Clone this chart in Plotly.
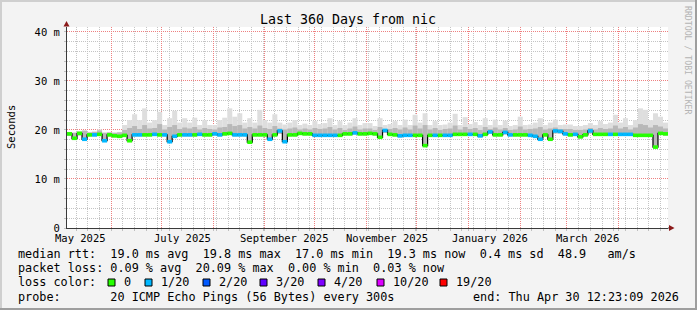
import plotly.graph_objects as go
import pandas as pd

# ---------------- data ----------------
start = pd.Timestamp('2025-05-05 12:23:09')
end = pd.Timestamp('2026-04-30 12:23:09')
step_days = 3

median_ms = [19.2, 18.3, 19.3, 18.1, 19.0, 19.0, 19.1, 17.8, 19.0, 18.8,
             18.7, 18.9, 17.8, 19.0, 19.0, 19.0, 19.0, 19.1, 19.0, 19.0,
             17.6, 18.7, 19.0, 19.0, 19.0, 19.0, 19.1, 19.0, 19.0, 19.2,
             19.0, 19.2, 19.3, 19.0, 19.0, 19.0, 17.5, 19.0, 19.0, 19.0,
             18.1, 19.0, 19.8, 17.6, 19.0, 19.0, 19.3, 19.2, 19.2, 18.9,
             18.9, 18.9, 18.9, 18.9, 18.9, 19.2, 19.2, 19.4, 19.2, 19.2,
             19.3, 19.2, 18.5, 19.9, 19.1, 19.0, 18.8, 18.9, 18.9, 18.9,
             18.9, 16.8, 18.9, 18.9, 18.9, 18.9, 18.9, 19.1, 19.1, 19.1,
             19.1, 19.1, 18.8, 19.1, 19.6, 19.0, 19.0, 19.5, 19.0, 19.0,
             19.0, 19.0, 18.9, 18.7, 18.1, 19.0, 18.1, 19.8, 19.7, 19.2,
             19.0, 19.1, 18.6, 19.0, 19.8, 19.1, 19.1, 19.1, 19.1, 19.1,
             19.1, 19.1, 19.1, 18.9, 18.9, 18.9, 18.9, 16.5, 19.3, 19.2]

loss_step = [0, 0, 0, 1, 0, 1, 0, 1, 0, 0,
             0, 0, 0, 1, 1, 0, 0, 1, 0, 1,
             1, 1, 0, 1, 1, 0, 1, 0, 0, 1,
             1, 0, 0, 1, 1, 1, 0, 0, 0, 0,
             1, 0, 1, 1, 0, 0, 0, 0, 0, 1,
             1, 1, 1, 1, 0, 0, 0, 1, 0, 0,
             0, 0, 0, 1, 0, 0, 1, 1, 1, 0,
             0, 0, 0, 1, 0, 1, 1, 0, 0, 0,
             1, 0, 1, 0, 1, 0, 0, 1, 1, 0,
             0, 0, 1, 1, 1, 0, 0, 1, 1, 1,
             0, 1, 0, 0, 1, 0, 0, 0, 1, 0,
             1, 1, 1, 0, 0, 0, 0, 0, 0, 0]

smoke_max = [19.6, 19.5, 19.8, 20.0, 19.6, 19.7, 20.1, 19.5, 19.6, 19.5,
             19.6, 21.0, 22.0, 23.2, 22.0, 24.4, 21.5, 22.0, 23.7, 21.0,
             22.4, 23.9, 21.5, 22.4, 21.5, 22.5, 21.0, 22.0, 21.0, 21.0,
             22.0, 22.5, 24.4, 22.7, 23.4, 21.5, 22.4, 21.5, 24.1, 22.0,
             21.5, 23.2, 21.5, 21.1, 21.5, 22.0, 21.0, 21.3, 21.0, 21.8,
             21.2, 21.4, 22.4, 21.0, 21.8, 21.0, 21.5, 22.4, 21.0, 21.4,
             21.4, 20.8, 22.4, 21.0, 21.2, 21.8, 21.0, 22.1, 21.0, 23.1,
             21.5, 23.4, 21.0, 21.8, 21.0, 21.1, 21.5, 23.3, 21.0, 22.6,
             21.2, 21.6, 21.0, 22.4, 21.0, 22.1, 21.0, 21.9, 20.8, 21.0,
             22.7, 21.0, 21.1, 21.5, 22.4, 21.0, 21.5, 22.1, 21.0, 21.1,
             21.1, 20.8, 20.8, 21.0, 21.4, 21.0, 21.8, 21.2, 21.5, 23.1,
             21.5, 22.4, 21.0, 22.0, 24.4, 24.1, 22.0, 23.4, 22.7, 21.5]

smoke_mid = [19.5, 19.4, 19.6, 19.8, 19.5, 19.6, 19.9, 19.4, 19.5, 19.4,
             19.5, 20.0, 20.4, 20.8, 20.2, 21.0, 20.3, 20.4, 21.2, 20.1,
             20.6, 21.0, 20.2, 20.5, 20.3, 20.6, 20.1, 20.4, 20.2, 20.1,
             20.5, 20.6, 21.2, 20.8, 21.0, 20.3, 20.6, 20.3, 20.9, 20.4,
             20.2, 20.8, 20.3, 20.1, 20.3, 20.5, 20.1, 20.3, 20.1, 20.4,
             20.2, 20.3, 20.6, 20.1, 20.4, 20.0, 20.3, 20.7, 20.1, 20.3,
             20.3, 20.0, 20.6, 20.2, 20.2, 20.4, 20.1, 20.5, 20.1, 20.9,
             20.3, 21.0, 20.1, 20.4, 20.0, 20.2, 20.3, 20.9, 20.1, 20.6,
             20.2, 20.4, 20.0, 20.6, 20.2, 20.5, 20.1, 20.4, 20.0, 20.1,
             20.7, 20.1, 20.2, 20.3, 20.6, 20.1, 20.3, 20.5, 20.2, 20.2,
             20.2, 20.0, 20.0, 20.1, 20.4, 20.1, 20.4, 20.2, 20.3, 20.9,
             20.3, 20.6, 20.1, 20.5, 21.2, 21.0, 20.5, 21.0, 20.7, 20.3]

smoke_min = [18.8, 18.3, 18.9, 18.1, 18.7, 18.7, 18.8, 17.8, 18.7, 18.5,
             18.4, 18.6, 17.8, 18.7, 18.7, 18.7, 18.7, 18.8, 18.7, 18.7,
             17.6, 18.4, 18.7, 18.7, 18.7, 18.7, 18.8, 18.7, 18.7, 18.9,
             18.7, 18.9, 19.0, 18.7, 18.7, 18.7, 17.5, 18.7, 18.7, 18.7,
             18.1, 18.7, 19.2, 17.6, 18.7, 18.7, 19.0, 18.9, 18.9, 18.6,
             18.6, 18.6, 18.6, 18.6, 18.6, 18.9, 18.9, 19.1, 18.9, 18.9,
             19.0, 18.9, 18.5, 19.4, 18.8, 18.7, 18.5, 18.6, 18.6, 18.6,
             18.6, 16.8, 18.6, 18.6, 18.6, 18.6, 18.6, 18.8, 18.8, 18.8,
             18.8, 18.8, 18.5, 18.8, 19.2, 18.7, 18.7, 19.1, 18.7, 18.7,
             18.7, 18.7, 18.6, 18.4, 18.1, 18.7, 18.1, 19.3, 19.3, 18.9,
             18.7, 18.8, 18.3, 18.7, 19.3, 18.8, 18.8, 18.8, 18.8, 18.8,
             18.8, 18.8, 18.8, 18.6, 18.6, 18.6, 18.6, 16.5, 19.0, 18.9]

loss_labels = ['0', '1/20', '2/20', '3/20', '4/20', '10/20', '19/20']
loss_colors = ['#26ff00', '#00b8ff', '#0059ff', '#5e00ff', '#7e00ff', '#dd00ff', '#ff0000']

x_label_dates = ['2025-05-13 18:00', '2025-07-13 18:00', '2025-09-12 18:00',
                 '2025-11-13 00:00', '2026-01-13 18:00', '2026-03-13 12:00']
x_label_text = ['May 2025', 'July 2025', 'September 2025', 'November 2025',
                'January 2026', 'March 2026']

y_tick_vals = [0, 10, 20, 30, 40]
y_tick_text = ['0', '10 m', '20 m', '30 m', '40 m']

legend_lines = [
    'median rtt:  19.0 ms avg  19.8 ms max  17.0 ms min  19.3 ms now  0.4 ms sd  48.9   am/s',
    'packet loss: 0.09 % avg  20.09 % max  0.00 % min  0.03 % now',
    'loss color:',
    'probe:       20 ICMP Echo Pings (56 Bytes) every 300s',
]
end_text = 'end: Thu Apr 30 12:23:09 2026'
title_text = 'Last 360 Days from nic'

# ---------------- geometry ----------------
W, H = 697, 310
L, R, T, B = 67, 668, 27, 228
def px(x): return (x - L) / (R - L)
def py(y): return (B - y) / (B - T)
def nb(s): return s.replace(' ', '\u00a0')

MONO = 'DejaVu Sans Mono'

n = len(median_ms)
lefts = [start + pd.Timedelta(days=step_days * i) for i in range(n)]
rights = lefts[1:] + [end]
centers = [t + pd.Timedelta(hours=step_days * 12) for t in lefts]
bw = step_days * 86400000

fig = go.Figure()

fig.add_trace(go.Bar(x=centers, base=smoke_min,
                     y=[hi - lo for hi, lo in zip(smoke_max, smoke_min)],
                     width=bw, marker=dict(color='#dedede', line_width=0),
                     hoverinfo='skip'))
fig.add_trace(go.Bar(x=centers, base=smoke_min,
                     y=[hi - lo for hi, lo in zip(smoke_mid, smoke_min)],
                     width=bw, marker=dict(color='#b8b8b8', line_width=0),
                     hoverinfo='skip'))
# thin dark step line (visible at transitions)
fig.add_trace(go.Scatter(x=lefts + [end], y=median_ms + [median_ms[-1]],
                         mode='lines', line=dict(color='#000000', width=1.2, shape='hv'),
                         hoverinfo='skip'))
# median line coloured by loss
for k, col in enumerate(loss_colors):
    xs, ys = [], []
    for i in range(n):
        if loss_step[i] == k:
            xs += [lefts[i], rights[i], None]
            ys += [median_ms[i], median_ms[i], None]
    if xs:
        fig.add_trace(go.Scatter(x=xs, y=ys, mode='lines',
                                 line=dict(color=col, width=3.6),
                                 hoverinfo='skip', connectgaps=False))

shapes = []
# frame
shapes.append(dict(type='rect', xref='paper', yref='paper', x0=px(0), x1=px(W), y0=py(0), y1=py(2),
                   fillcolor='#cfcfcf', line_width=0, layer='below'))
shapes.append(dict(type='rect', xref='paper', yref='paper', x0=px(0), x1=px(2), y0=py(0), y1=py(H),
                   fillcolor='#cfcfcf', line_width=0, layer='below'))
shapes.append(dict(type='rect', xref='paper', yref='paper', x0=px(0), x1=px(W), y0=py(H - 2), y1=py(H),
                   fillcolor='#9e9e9e', line_width=0, layer='below'))
shapes.append(dict(type='rect', xref='paper', yref='paper', x0=px(W - 2), x1=px(W), y0=py(0), y1=py(H),
                   fillcolor='#9e9e9e', line_width=0, layer='below'))
# axis extension + arrows
shapes.append(dict(type='line', xref='paper', yref='paper', x0=1, x1=px(670), y0=0, y1=0,
                   line=dict(color='#3a3a3a', width=1)))
shapes.append(dict(type='path', xref='paper', yref='paper',
                   path=f'M {px(66.5)} {py(21)} L {px(63.5)} {py(26.5)} L {px(69.5)} {py(26.5)} Z',
                   fillcolor='#8b1a1a', line_width=0))
shapes.append(dict(type='path', xref='paper', yref='paper',
                   path=f'M {px(674.5)} {py(228)} L {px(669)} {py(225)} L {px(669)} {py(231)} Z',
                   fillcolor='#8b1a1a', line_width=0))

label_x = [122, 159, 217, 274, 332, 391, 454]
for lx, col in zip(label_x, loss_colors):
    shapes.append(dict(type='rect', xref='paper', yref='paper',
                       x0=px(lx - 14), x1=px(lx - 7), y0=py(286), y1=py(279),
                       fillcolor=col, line=dict(color='#000000', width=1)))

ann = []
ann.append(dict(text=nb(title_text), xref='paper', yref='paper', x=px(348), y=py(19.5),
                xanchor='center', yanchor='middle', showarrow=False,
                font=dict(family=MONO, size=13.3, color='#000000')))
ann.append(dict(text='Seconds', xref='paper', yref='paper', x=px(11), y=py(127),
                xanchor='center', yanchor='middle', showarrow=False, textangle=-90,
                font=dict(family=MONO, size=10.5, color='#000000')))
ann.append(dict(text=nb('RRDTOOL / TOBI OETIKER'), xref='paper', yref='paper', x=px(688), y=py(60),
                xanchor='center', yanchor='middle', showarrow=False, textangle=90,
                font=dict(family=MONO, size=8.2, color='#b4b4b4')))
for d, t in zip(x_label_dates, x_label_text):
    ann.append(dict(text=nb(t), xref='x', yref='paper', x=d, y=py(238),
                    xanchor='center', yanchor='middle', showarrow=False,
                    font=dict(family=MONO, size=10.5, color='#000000')))
line_y = [254.3, 268.2, 282.4, 296.6]
for t, yy in zip(legend_lines, line_y):
    ann.append(dict(text=nb(t), xref='paper', yref='paper', x=px(15.5), y=py(yy),
                    xanchor='left', yanchor='middle', showarrow=False,
                    font=dict(family=MONO, size=11.8, color='#000000')))
for lx, t in zip(label_x, loss_labels):
    ann.append(dict(text=nb(t), xref='paper', yref='paper', x=px(lx), y=py(line_y[2]),
                    xanchor='left', yanchor='middle', showarrow=False,
                    font=dict(family=MONO, size=11.8, color='#000000')))
ann.append(dict(text=nb(end_text), xref='paper', yref='paper', x=px(681), y=py(line_y[3]),
                xanchor='right', yanchor='middle', showarrow=False,
                font=dict(family=MONO, size=11.8, color='#000000')))

fig.update_layout(
    width=W, height=H,
    margin=dict(l=L, r=W - R, t=T, b=H - B, pad=0),
    paper_bgcolor='#f3f3f3', plot_bgcolor='#ffffff',
    barmode='overlay', showlegend=False,
    shapes=shapes, annotations=ann,
    xaxis=dict(type='date', range=[start, end], showticklabels=False,
               dtick='M1', tick0='2025-05-01',
               showgrid=True, gridcolor='#ee8080', griddash='1px,1px', gridwidth=1,
               ticks='outside', ticklen=2, tickcolor='#c0c0c0',
               minor=dict(dtick=7 * 86400000, tick0='2025-05-04', showgrid=True,
                          gridcolor='#c4c4c4', griddash='1px,1px', gridwidth=1,
                          ticks='outside', ticklen=2, tickcolor='#c0c0c0'),
               showline=True, linecolor='#3a3a3a', linewidth=1, zeroline=False,
               layer='above traces', fixedrange=True),
    yaxis=dict(range=[0, 41], tickvals=y_tick_vals, ticktext=y_tick_text,
               showgrid=True, gridcolor='#ee8080', griddash='1px,1px', gridwidth=1,
               ticks='outside', ticklen=2, tickcolor='#c0c0c0',
               minor=dict(dtick=2, showgrid=True, gridcolor='#c4c4c4', griddash='1px,1px',
                          gridwidth=1, ticks='outside', ticklen=2, tickcolor='#c0c0c0'),
               tickfont=dict(family=MONO, size=10.5, color='#000000'),
               ticklabelstandoff=2,
               showline=True, linecolor='#3a3a3a', linewidth=1, zeroline=False,
               layer='above traces', fixedrange=True),
)

fig.write_html('out.html')
